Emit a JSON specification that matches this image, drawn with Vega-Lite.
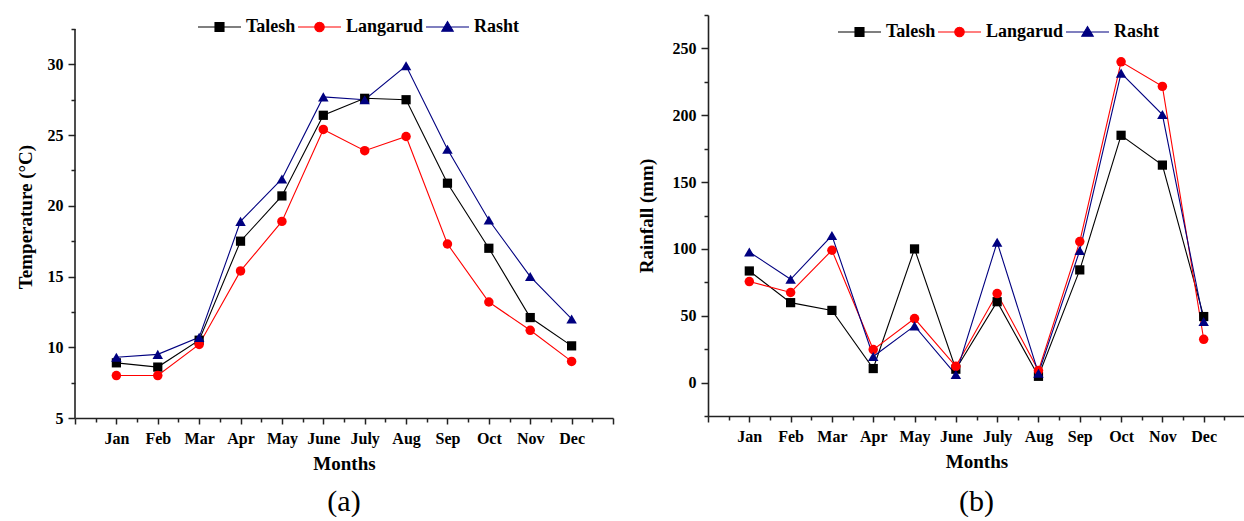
{
  "$schema": "https://vega.github.io/schema/vega-lite/v6.json",
  "background": "white",
  "padding": {"left": 16, "top": 14, "right": 0, "bottom": 0},
  "spacing": 23,
  "datasets": {
    "temp": [
      {"station": "Talesh", "month_no": 1, "month": "Jan", "temperature": 8.9},
      {"station": "Talesh", "month_no": 2, "month": "Feb", "temperature": 8.6},
      {"station": "Talesh", "month_no": 3, "month": "Mar", "temperature": 10.5},
      {"station": "Talesh", "month_no": 4, "month": "Apr", "temperature": 17.5},
      {"station": "Talesh", "month_no": 5, "month": "May", "temperature": 20.7},
      {"station": "Talesh", "month_no": 6, "month": "June", "temperature": 26.4},
      {"station": "Talesh", "month_no": 7, "month": "July", "temperature": 27.6},
      {"station": "Talesh", "month_no": 8, "month": "Aug", "temperature": 27.5},
      {"station": "Talesh", "month_no": 9, "month": "Sep", "temperature": 21.6},
      {"station": "Talesh", "month_no": 10, "month": "Oct", "temperature": 17.0},
      {"station": "Talesh", "month_no": 11, "month": "Nov", "temperature": 12.1},
      {"station": "Talesh", "month_no": 12, "month": "Dec", "temperature": 10.1},
      {"station": "Langarud", "month_no": 1, "month": "Jan", "temperature": 8.0},
      {"station": "Langarud", "month_no": 2, "month": "Feb", "temperature": 8.0},
      {"station": "Langarud", "month_no": 3, "month": "Mar", "temperature": 10.2},
      {"station": "Langarud", "month_no": 4, "month": "Apr", "temperature": 15.4},
      {"station": "Langarud", "month_no": 5, "month": "May", "temperature": 18.9},
      {"station": "Langarud", "month_no": 6, "month": "June", "temperature": 25.4},
      {"station": "Langarud", "month_no": 7, "month": "July", "temperature": 23.9},
      {"station": "Langarud", "month_no": 8, "month": "Aug", "temperature": 24.9},
      {"station": "Langarud", "month_no": 9, "month": "Sep", "temperature": 17.3},
      {"station": "Langarud", "month_no": 10, "month": "Oct", "temperature": 13.2},
      {"station": "Langarud", "month_no": 11, "month": "Nov", "temperature": 11.2},
      {"station": "Langarud", "month_no": 12, "month": "Dec", "temperature": 9.0},
      {"station": "Rasht", "month_no": 1, "month": "Jan", "temperature": 9.3},
      {"station": "Rasht", "month_no": 2, "month": "Feb", "temperature": 9.5},
      {"station": "Rasht", "month_no": 3, "month": "Mar", "temperature": 10.7},
      {"station": "Rasht", "month_no": 4, "month": "Apr", "temperature": 18.9},
      {"station": "Rasht", "month_no": 5, "month": "May", "temperature": 21.9},
      {"station": "Rasht", "month_no": 6, "month": "June", "temperature": 27.7},
      {"station": "Rasht", "month_no": 7, "month": "July", "temperature": 27.5},
      {"station": "Rasht", "month_no": 8, "month": "Aug", "temperature": 29.9},
      {"station": "Rasht", "month_no": 9, "month": "Sep", "temperature": 24.0},
      {"station": "Rasht", "month_no": 10, "month": "Oct", "temperature": 19.0},
      {"station": "Rasht", "month_no": 11, "month": "Nov", "temperature": 15.0},
      {"station": "Rasht", "month_no": 12, "month": "Dec", "temperature": 12.0}
    ],
    "rain": [
      {"station": "Talesh", "month_no": 1, "month": "Jan", "rainfall": 83.5},
      {"station": "Talesh", "month_no": 2, "month": "Feb", "rainfall": 59.8},
      {"station": "Talesh", "month_no": 3, "month": "Mar", "rainfall": 54.0},
      {"station": "Talesh", "month_no": 4, "month": "Apr", "rainfall": 10.5},
      {"station": "Talesh", "month_no": 5, "month": "May", "rainfall": 100.0},
      {"station": "Talesh", "month_no": 6, "month": "June", "rainfall": 10.0},
      {"station": "Talesh", "month_no": 7, "month": "July", "rainfall": 60.5},
      {"station": "Talesh", "month_no": 8, "month": "Aug", "rainfall": 4.7},
      {"station": "Talesh", "month_no": 9, "month": "Sep", "rainfall": 84.3},
      {"station": "Talesh", "month_no": 10, "month": "Oct", "rainfall": 185.0},
      {"station": "Talesh", "month_no": 11, "month": "Nov", "rainfall": 162.7},
      {"station": "Talesh", "month_no": 12, "month": "Dec", "rainfall": 49.4},
      {"station": "Langarud", "month_no": 1, "month": "Jan", "rainfall": 75.6},
      {"station": "Langarud", "month_no": 2, "month": "Feb", "rainfall": 67.4},
      {"station": "Langarud", "month_no": 3, "month": "Mar", "rainfall": 99.0},
      {"station": "Langarud", "month_no": 4, "month": "Apr", "rainfall": 24.7},
      {"station": "Langarud", "month_no": 5, "month": "May", "rainfall": 47.9},
      {"station": "Langarud", "month_no": 6, "month": "June", "rainfall": 12.2},
      {"station": "Langarud", "month_no": 7, "month": "July", "rainfall": 66.6},
      {"station": "Langarud", "month_no": 8, "month": "Aug", "rainfall": 9.0},
      {"station": "Langarud", "month_no": 9, "month": "Sep", "rainfall": 105.5},
      {"station": "Langarud", "month_no": 10, "month": "Oct", "rainfall": 240.0},
      {"station": "Langarud", "month_no": 11, "month": "Nov", "rainfall": 221.6},
      {"station": "Langarud", "month_no": 12, "month": "Dec", "rainfall": 32.4},
      {"station": "Rasht", "month_no": 1, "month": "Jan", "rainfall": 97.7},
      {"station": "Rasht", "month_no": 2, "month": "Feb", "rainfall": 77.3},
      {"station": "Rasht", "month_no": 3, "month": "Mar", "rainfall": 110.0},
      {"station": "Rasht", "month_no": 4, "month": "Apr", "rainfall": 19.5},
      {"station": "Rasht", "month_no": 5, "month": "May", "rainfall": 42.4},
      {"station": "Rasht", "month_no": 6, "month": "June", "rainfall": 6.0},
      {"station": "Rasht", "month_no": 7, "month": "July", "rainfall": 105.0},
      {"station": "Rasht", "month_no": 8, "month": "Aug", "rainfall": 7.0},
      {"station": "Rasht", "month_no": 9, "month": "Sep", "rainfall": 98.8},
      {"station": "Rasht", "month_no": 10, "month": "Oct", "rainfall": 231.5},
      {"station": "Rasht", "month_no": 11, "month": "Nov", "rainfall": 200.5},
      {"station": "Rasht", "month_no": 12, "month": "Dec", "rainfall": 45.7}
    ]
  },
  "hconcat": [
    {
      "width": 538,
      "height": 403,
      "data": {"name": "temp"},
      "title": {"text": "(a)", "orient": "bottom", "frame": "group", "anchor": "middle", "font": "Liberation Serif", "fontSize": 30, "fontWeight": "normal", "color": "black", "offset": 14},
      "layer": [
        {
          "data": {"values": [{}]},
          "mark": {"type": "rule", "color": "#222222", "strokeWidth": 1.6},
          "encoding": {
            "x": {"datum": 0, "type": "quantitative", "axis": null},
            "y": {"datum": 5, "type": "quantitative", "axis": null},
            "y2": {"datum": 32.5}
          }
        },
        {
          "mark": {"type": "line", "strokeWidth": 1.1},
          "encoding": {
            "x": {"field": "month_no", "type": "quantitative", "scale": {"domain": [0, 13], "nice": false, "zero": false},
              "axis": {"orient": "bottom", "values": [0,1,2,3,4,5,6,7,8,9,10,11,12,13], "labelExpr": "datum.value >= 1 && datum.value <= 12 ? ['Jan','Feb','Mar','Apr','May','June','July','Aug','Sep','Oct','Nov','Dec'][datum.value - 1] : ''", "title": "Months", "tickSize": 6, "labelPadding": 6, "titlePadding": 8, "labelOverlap": false, "labelFlush": false}},
            "y": {"field": "temperature", "type": "quantitative", "scale": {"domain": [5, 33.49], "nice": false, "zero": false},
              "axis": {"orient": "left", "values": [5, 10, 15, 20, 25, 30], "domain": false, "title": "Temperature (°C)", "tickSize": 7, "labelPadding": 5, "titlePadding": 12}},
            "color": {"field": "station", "type": "nominal", "scale": {"domain": ["Talesh", "Langarud", "Rasht"], "range": ["#000000", "#ff0000", "#000080"]},
              "legend": {"orient": "none", "legendX": 135.5, "legendY": 3, "direction": "horizontal", "title": null, "symbolSize": 100, "labelOffset": 17.5, "columnPadding": 0, "labelFont": "Liberation Serif", "labelFontSize": 18, "labelFontWeight": "bold", "labelColor": "black",
                "encode": {"symbols": {"update": {
                  "shape": {"signal": "datum.value === 'Talesh' ? 'M-4.3,0H4.3M-0.9,-0.9H0.9V0.9H-0.9Z' : datum.value === 'Langarud' ? 'M-4.3,0H4.3M0.95,0A0.95,0.95,0,1,1,-0.95,0A0.95,0.95,0,1,1,0.95,0Z' : 'M-4.3,0H4.3M0,-1.1L1.15,0.85H-1.15Z'"},
                  "fill": {"signal": "datum.value === 'Talesh' ? '#000000' : datum.value === 'Langarud' ? '#ff0000' : '#000080'"},
                  "stroke": {"signal": "datum.value === 'Talesh' ? '#000000' : datum.value === 'Langarud' ? '#ff0000' : '#000080'"},
                  "strokeWidth": {"value": 1.1},
                  "size": {"value": 100},
                  "opacity": {"value": 1},
                  "fillOpacity": {"value": 1}
                }}}}}
          }
        },
        {
          "transform": [{"filter": "datum.station === 'Talesh'"}],
          "mark": {"type": "point", "shape": "square", "filled": true, "color": "#000000", "size": 85, "opacity": 1},
          "encoding": {
            "x": {"field": "month_no", "type": "quantitative",
              "axis": {"orient": "bottom", "values": [0.5,1.5,2.5,3.5,4.5,5.5,6.5,7.5,8.5,9.5,10.5,11.5,12.5], "labels": false, "domain": false, "tickSize": 4, "title": null}},
            "y": {"field": "temperature", "type": "quantitative",
              "axis": {"orient": "left", "values": [7.5, 12.5, 17.5, 22.5, 27.5, 32.5], "labels": false, "domain": false, "tickSize": 4, "title": null}}
          }
        },
        {
          "transform": [{"filter": "datum.station === 'Langarud'"}],
          "mark": {"type": "point", "shape": "circle", "filled": true, "color": "#ff0000", "size": 90, "opacity": 1},
          "encoding": {
            "x": {"field": "month_no", "type": "quantitative", "axis": null},
            "y": {"field": "temperature", "type": "quantitative", "axis": null}
          }
        },
        {
          "transform": [{"filter": "datum.station === 'Rasht'"}],
          "mark": {"type": "point", "shape": "triangle-up", "filled": true, "color": "#000080", "size": 110, "opacity": 1},
          "encoding": {
            "x": {"field": "month_no", "type": "quantitative", "axis": null},
            "y": {"field": "temperature", "type": "quantitative", "axis": null}
          }
        }
      ],
      "resolve": {"axis": {"x": "independent", "y": "independent"}}
    },
    {
      "width": 537,
      "height": 401,
      "data": {"name": "rain"},
      "title": {"text": "(b)", "orient": "bottom", "frame": "group", "anchor": "middle", "font": "Liberation Serif", "fontSize": 30, "fontWeight": "normal", "color": "black", "offset": 16},
      "layer": [
        {
          "mark": {"type": "line", "strokeWidth": 1.1},
          "encoding": {
            "x": {"field": "month_no", "type": "quantitative", "scale": {"domain": [0, 13], "nice": false, "zero": false},
              "axis": {"orient": "bottom", "values": [0,1,2,3,4,5,6,7,8,9,10,11,12,13], "labelExpr": "datum.value >= 1 && datum.value <= 12 ? ['Jan','Feb','Mar','Apr','May','June','July','Aug','Sep','Oct','Nov','Dec'][datum.value - 1] : ''", "title": "Months", "tickSize": 6, "labelPadding": 6, "titlePadding": 8, "labelOverlap": false, "labelFlush": false}},
            "y": {"field": "rainfall", "type": "quantitative", "scale": {"domain": [-25, 275], "nice": false, "zero": false},
              "axis": {"orient": "left", "values": [0, 50, 100, 150, 200, 250], "title": "Rainfall (mm)", "tickSize": 7, "labelPadding": 5, "titlePadding": 16}},
            "color": {"field": "station", "type": "nominal", "scale": {"domain": ["Talesh", "Langarud", "Rasht"], "range": ["#000000", "#ff0000", "#000080"]},
              "legend": {"orient": "none", "legendX": 142.5, "legendY": 8, "direction": "horizontal", "title": null, "symbolSize": 100, "labelOffset": 17.5, "columnPadding": 0, "labelFont": "Liberation Serif", "labelFontSize": 18, "labelFontWeight": "bold", "labelColor": "black",
                "encode": {"symbols": {"update": {
                  "shape": {"signal": "datum.value === 'Talesh' ? 'M-4.3,0H4.3M-0.9,-0.9H0.9V0.9H-0.9Z' : datum.value === 'Langarud' ? 'M-4.3,0H4.3M0.95,0A0.95,0.95,0,1,1,-0.95,0A0.95,0.95,0,1,1,0.95,0Z' : 'M-4.3,0H4.3M0,-1.1L1.15,0.85H-1.15Z'"},
                  "fill": {"signal": "datum.value === 'Talesh' ? '#000000' : datum.value === 'Langarud' ? '#ff0000' : '#000080'"},
                  "stroke": {"signal": "datum.value === 'Talesh' ? '#000000' : datum.value === 'Langarud' ? '#ff0000' : '#000080'"},
                  "strokeWidth": {"value": 1.1},
                  "size": {"value": 100},
                  "opacity": {"value": 1},
                  "fillOpacity": {"value": 1}
                }}}}}
          }
        },
        {
          "transform": [{"filter": "datum.station === 'Talesh'"}],
          "mark": {"type": "point", "shape": "square", "filled": true, "color": "#000000", "size": 85, "opacity": 1},
          "encoding": {
            "x": {"field": "month_no", "type": "quantitative",
              "axis": {"orient": "bottom", "values": [0.5,1.5,2.5,3.5,4.5,5.5,6.5,7.5,8.5,9.5,10.5,11.5,12.5], "labels": false, "domain": false, "tickSize": 4, "title": null}},
            "y": {"field": "rainfall", "type": "quantitative",
              "axis": {"orient": "left", "values": [-25, 25, 75, 125, 175, 225, 275], "labels": false, "domain": false, "tickSize": 4, "title": null}}
          }
        },
        {
          "transform": [{"filter": "datum.station === 'Langarud'"}],
          "mark": {"type": "point", "shape": "circle", "filled": true, "color": "#ff0000", "size": 90, "opacity": 1},
          "encoding": {
            "x": {"field": "month_no", "type": "quantitative", "axis": null},
            "y": {"field": "rainfall", "type": "quantitative", "axis": null}
          }
        },
        {
          "transform": [{"filter": "datum.station === 'Rasht'"}],
          "mark": {"type": "point", "shape": "triangle-up", "filled": true, "color": "#000080", "size": 110, "opacity": 1},
          "encoding": {
            "x": {"field": "month_no", "type": "quantitative", "axis": null},
            "y": {"field": "rainfall", "type": "quantitative", "axis": null}
          }
        }
      ],
      "resolve": {"axis": {"x": "independent", "y": "independent"}}
    }
  ],
  "resolve": {"scale": {"color": "independent"}, "legend": {"color": "independent"}},
  "config": {
    "view": {"stroke": null},
    "font": "Liberation Serif",
    "axis": {
      "grid": false,
      "labelFont": "Liberation Serif", "labelFontSize": 16, "labelFontWeight": "bold", "labelColor": "#000000",
      "titleFont": "Liberation Serif", "titleFontSize": 19, "titleFontWeight": "bold", "titleColor": "#000000",
      "domainColor": "#222222", "domainWidth": 1.6, "tickColor": "#222222", "tickWidth": 1.5
    }
  }
}
